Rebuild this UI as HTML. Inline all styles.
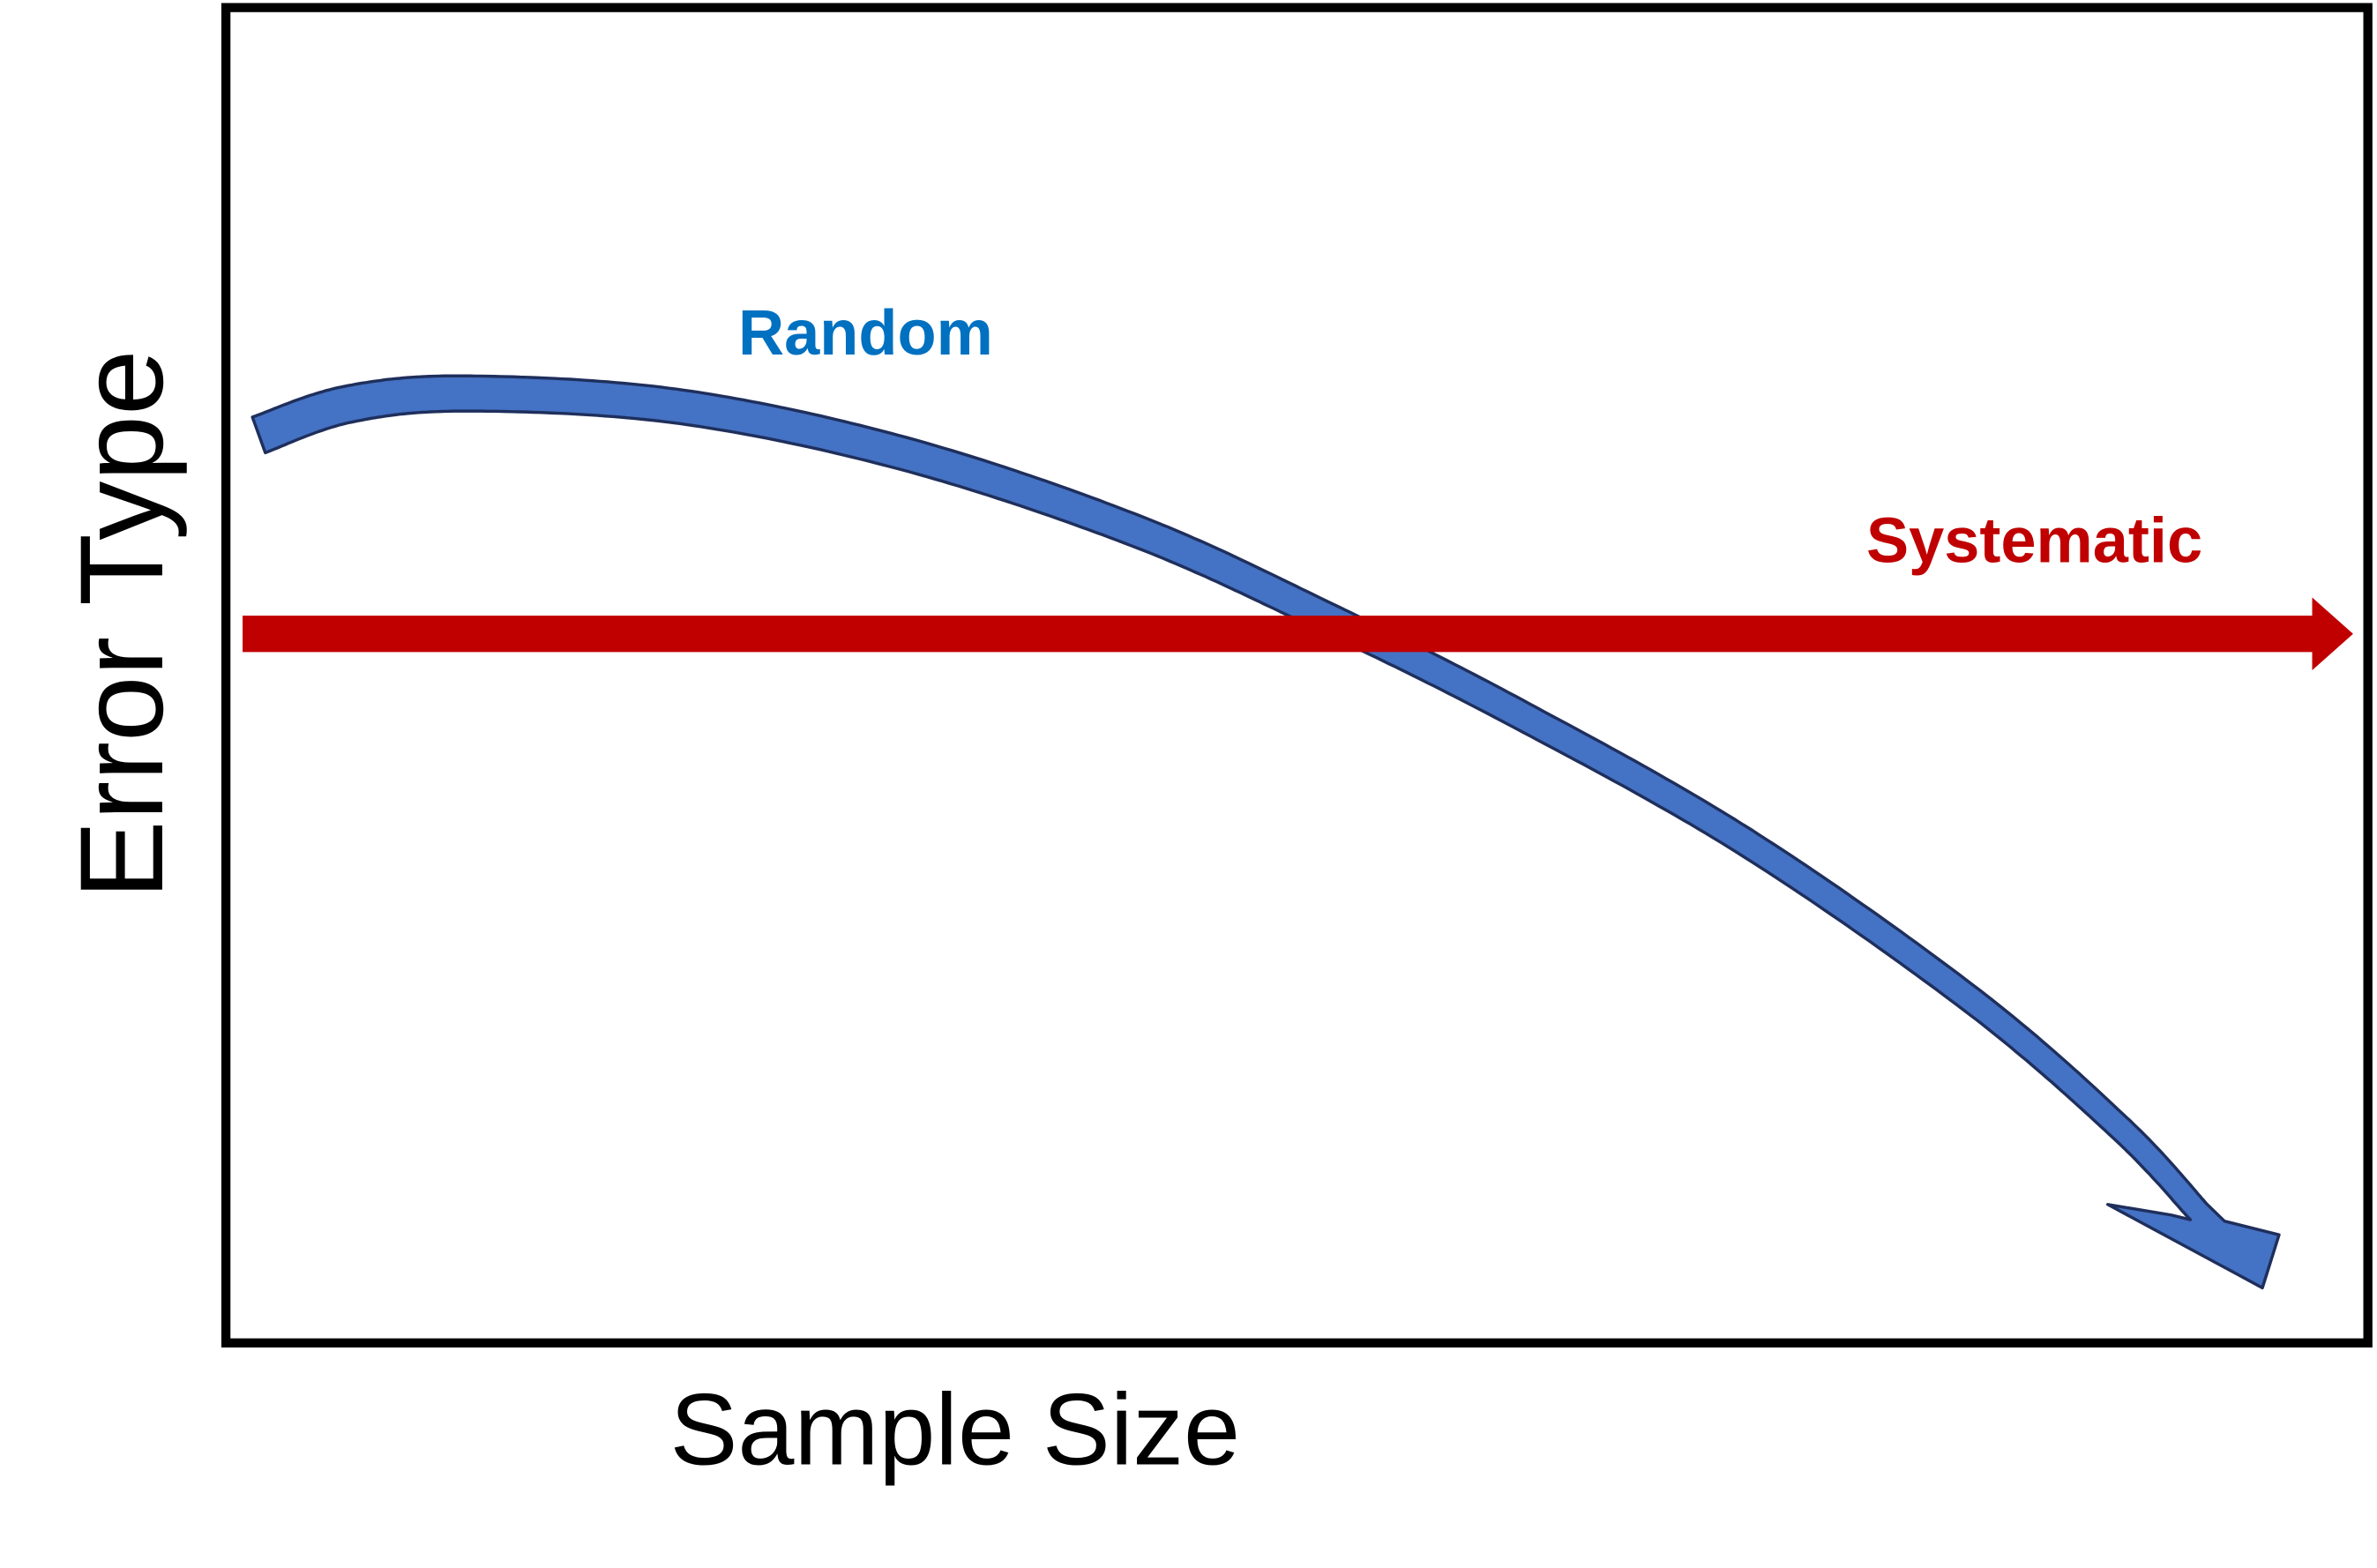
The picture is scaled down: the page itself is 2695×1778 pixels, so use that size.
<!DOCTYPE html>
<html>
<head>
<meta charset="utf-8">
<style>
  html, body { margin: 0; padding: 0; background: #ffffff; }
  svg { display: block; }
  text { font-family: "Liberation Sans", "DejaVu Sans", sans-serif; }
</style>
</head>
<body>
<svg id="chart" width="2695" height="1778" viewBox="0 0 1568 1034.5" xmlns="http://www.w3.org/2000/svg">
  <rect x="0" y="0" width="1568" height="1034.5" fill="#ffffff"/>
  <rect x="149" y="5" width="1413" height="881" fill="none" stroke="#000" stroke-width="6"/>
  <g id="marks"></g>
  <text x="571" y="234" text-anchor="middle" font-size="42" font-weight="bold" fill="#0070C0">Random</text>
  <text x="1342" y="371" text-anchor="middle" font-size="42" font-weight="bold" fill="#C00000">Systematic</text>
  <text x="630" y="966" text-anchor="middle" font-size="67" fill="#000">Sample Size</text>
  <text x="0" y="0" transform="translate(107,412) rotate(-90)" text-anchor="middle" font-size="78" fill="#000">Error Type</text>
</svg>
<script>
// Conceptual data (x: sample size 0-100, y: error 0-100)
const randomX = [0.8, 5.2, 11.2, 21.6, 32.8, 44.0, 53.0, 62.7, 73.9, 85.1, 92.5, 96.3];
const randomY = [68.0, 70.3, 71.1, 70.1, 66.5, 60.8, 54.6, 47.2, 37.6, 25.7, 16.0, 9.8];
const systematicX = [0, 103.9];
const systematicY = [53.1, 53.1];

function xScale(v) { return 160 + v * 13.4; }
function yScale(v) { return 886 - v * 8.81; }

const NS = "http://www.w3.org/2000/svg";
const marks = document.getElementById("marks");

// Random error band (curved arrow)
(function () {
  const pts = randomX.map((x, i) => [xScale(x), yScale(randomY[i])]);
  // dense Catmull-Rom sampling of the centerline
  const dense = [];
  const steps = 30;
  for (let i = 0; i < pts.length - 1; i++) {
    const p0 = pts[Math.max(0, i - 1)], p1 = pts[i], p2 = pts[i + 1], p3 = pts[Math.min(pts.length - 1, i + 2)];
    for (let s = 0; s < steps; s++) {
      const t = s / steps, t2 = t * t, t3 = t2 * t;
      const f = (a, b, c, d) => 0.5 * ((2 * b) + (-a + c) * t + (2 * a - 5 * b + 4 * c - d) * t2 + (-a + 3 * b - 3 * c + d) * t3);
      dense.push([f(p0[0], p1[0], p2[0], p3[0]), f(p0[1], p1[1], p2[1], p3[1])]);
    }
  }
  dense.push(pts[pts.length - 1]);
  const n = dense.length;
  const left = [], right = [];
  for (let i = 0; i < n; i++) {
    const a = dense[Math.max(0, i - 2)], b = dense[Math.min(n - 1, i + 2)];
    let dx = b[0] - a[0], dy = b[1] - a[1];
    const len = Math.hypot(dx, dy) || 1; dx /= len; dy /= len;
    const w = (25 - 10 * i / (n - 1)) / 2;
    left.push([dense[i][0] + dy * w, dense[i][1] - dx * w]);
    right.push([dense[i][0] - dy * w, dense[i][1] + dx * w]);
  }
  const e = dense[n - 1];
  const fmt = p => p[0].toFixed(1) + "," + p[1].toFixed(1);
  let d = "M" + left.map(fmt).join(" L");
  d += " L" + (e[0] + 17) + "," + (e[1] + 6);
  d += " L" + (e[0] + 53) + "," + (e[1] + 15);
  d += " L" + (e[0] + 42) + "," + (e[1] + 50);
  d += " L" + (e[0] - 60) + "," + (e[1] - 5);
  d += " L" + (e[0] - 18) + "," + (e[1] + 2);
  d += " L" + right.slice().reverse().map(fmt).join(" L") + " Z";
  const path = document.createElementNS(NS, "path");
  path.setAttribute("d", d);
  path.setAttribute("fill", "#4472C4");
  path.setAttribute("stroke", "#1F2F5C");
  path.setAttribute("stroke-width", "2");
  path.setAttribute("stroke-linejoin", "round");
  
  
  marks.appendChild(path);
})();

// Systematic error arrow
(function () {
  const x0 = xScale(systematicX[0]), x1 = xScale(systematicX[1]);
  const y = yScale(systematicY[0]);
  const h = 12, headLen = 27, headH = 24;
  const d = "M" + x0 + "," + (y - h) + " L" + (x1 - headLen) + "," + (y - h) +
    " L" + (x1 - headLen) + "," + (y - headH) + " L" + x1 + "," + y +
    " L" + (x1 - headLen) + "," + (y + headH) + " L" + (x1 - headLen) + "," + (y + h) +
    " L" + x0 + "," + (y + h) + " Z";
  const path = document.createElementNS(NS, "path");
  path.setAttribute("d", d);
  path.setAttribute("fill", "#C00000");
  
  
  marks.appendChild(path);
})();
</script>
</body>
</html>
